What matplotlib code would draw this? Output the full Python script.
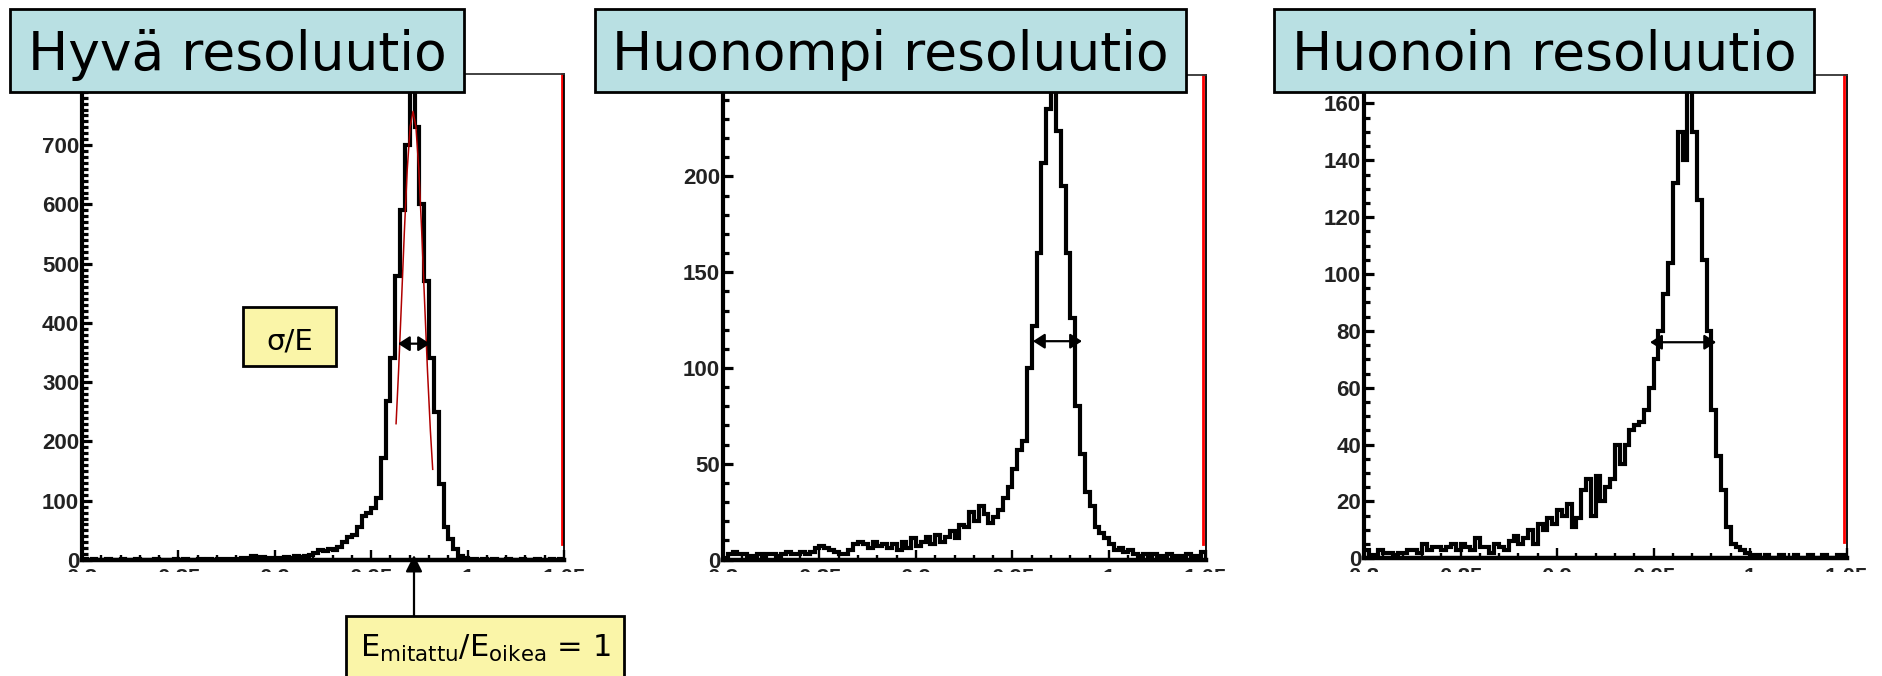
import numpy as np
import matplotlib.pyplot as plt
from matplotlib.patches import Rectangle, FancyArrowPatch
from matplotlib.ticker import MultipleLocator

plt.rcParams['mathtext.fontset'] = 'dejavusans'

W, H = 1883, 676

# histogram bins: 100 bins between 0.8 and 1.05
bin_lo, bin_hi, n_bins = 0.8, 1.05, 100

good = [1, 0, 1, 0, 0, 1, 0, 0, 1, 0,
        0, 1, 0, 0, 0, 1, 0, 0, 0, 1,
        0, 1, 0, 0, 1, 0, 1, 0, 1, 1,
        2, 1, 2, 3, 3, 6, 4, 5, 3, 4,
        4, 3, 5, 4, 6, 5, 7, 8, 12, 17,
        16, 18, 17, 22, 31, 38, 43, 55, 74, 80,
        88, 104, 172, 268, 340, 480, 590, 700, 800, 730,
        600, 470, 340, 250, 128, 55, 35, 18, 6, 3,
        1, 2, 0, 1, 0, 1, 0, 0, 1, 0,
        0, 1, 0, 0, 1, 0, 0, 1, 0, 1]

worse = [1, 3, 4, 3, 3, 2, 2, 3, 2, 3,
         3, 2, 3, 4, 3, 3, 4, 3, 4, 6,
         7, 6, 5, 4, 3, 3, 5, 8, 9, 8,
         6, 9, 7, 8, 6, 8, 5, 9, 6, 11,
         7, 9, 12, 8, 13, 9, 12, 15, 11, 18,
         17, 25, 20, 28, 24, 19, 22, 26, 32, 38,
         47, 57, 62, 100, 122, 160, 207, 235, 265, 224,
         195, 160, 126, 80, 55, 35, 28, 17, 14, 11,
         8, 5, 6, 4, 5, 3, 2, 3, 2, 3,
         2, 2, 3, 2, 1, 2, 3, 2, 2, 4]

worst = [3, 1, 0, 3, 2, 2, 1, 2, 2, 3,
         3, 2, 5, 3, 4, 4, 3, 4, 5, 3,
         5, 4, 3, 7, 4, 4, 2, 5, 4, 3,
         6, 8, 5, 7, 10, 5, 12, 10, 14, 12,
         17, 15, 19, 11, 14, 24, 28, 15, 29, 20,
         25, 28, 40, 33, 40, 45, 47, 48, 52, 60,
         70, 80, 93, 104, 132, 150, 140, 166, 150, 126,
         105, 80, 52, 36, 24, 11, 5, 4, 3, 2,
         1, 1, 0, 1, 0, 0, 1, 0, 0, 1,
         0, 0, 1, 0, 0, 1, 0, 0, 1, 1]

# gaussian fit drawn on the first histogram
fit_x = [0.9629, 0.9642, 0.9657, 0.9672, 0.9687, 0.9702, 0.9717,
         0.9732, 0.9747, 0.9762, 0.9777, 0.9792, 0.9807, 0.9819]
fit_y = [230, 319, 435, 554, 659, 731, 757, 731, 659, 554, 435, 319, 218, 153]

titles = ["Hyvä resoluutio", "Huonompi resoluutio", "Huonoin resoluutio"]
ymax = [820, 253, 170]
ytick_top = [700, 200, 160]
ytick_step = [100, 50, 20]
yminor_step = [10, 10, 5]
# width markers (x from, x to, height)
width_marks = [(0.9639, 0.9805, 365), (0.9606, 0.9860, 114), (0.9482, 0.9824, 76)]

xticks = [0.8, 0.85, 0.9, 0.95, 1.0, 1.05]
xtick_labels = ["0.8", "0.85", "0.9", "0.95", "1", "1.05"]

# panel frames in pixels (left, top, right, bottom)
frames = [(82, 74, 564, 560), (723, 75, 1205.5, 559.5), (1364, 75, 1846.6, 558.3)]
title_boxes = [(10, 9, 464, 92), (595, 9, 1186, 92), (1274, 9, 1814, 92)]

fig = plt.figure(figsize=(W / 100, H / 100), dpi=100)
edges = np.linspace(bin_lo, bin_hi, n_bins + 1)

for k, counts in enumerate([good, worse, worst]):
    l, t, r, b = frames[k]
    ax = fig.add_axes([l / W, 1 - b / H, (r - l) / W, (b - t) / H])
    ax.stairs(counts, edges, color='black', linewidth=3.0, baseline=0)
    ax.set_xlim(bin_lo, bin_hi)
    ax.set_ylim(0, ymax[k])

    ax.set_xticks(xticks)
    ax.set_xticklabels(xtick_labels)
    ax.xaxis.set_minor_locator(MultipleLocator(0.01))
    ax.set_yticks(np.arange(0, ytick_top[k] + 1, ytick_step[k]))
    ax.yaxis.set_minor_locator(MultipleLocator(yminor_step[k]))

    ax.tick_params(which='both', direction='in', top=False, right=False)
    ax.tick_params(axis='y', which='major', length=7.5, width=2.3, pad=2)
    ax.tick_params(axis='y', which='minor', length=4, width=2.3)
    ax.tick_params(axis='x', which='major', length=7.5, width=1.7, pad=6)
    ax.tick_params(axis='x', which='minor', length=3.8, width=1.7)
    for lab in ax.get_xticklabels() + ax.get_yticklabels():
        lab.set_fontfamily('Liberation Sans')
        lab.set_fontweight('bold')
        lab.set_fontsize(16)
        lab.set_color('#222222')

    ax.spines['left'].set_linewidth(3.0)
    ax.spines['bottom'].set_linewidth(3.2)
    ax.spines['top'].set_linewidth(1.3)
    ax.spines['top'].set_color('#333333')
    ax.spines['right'].set_linewidth(1.3)
    ax.plot([0.9955, 0.9955], [0.033, 1.0], transform=ax.transAxes,
            color='red', linewidth=2, clip_on=False)

    x0, x1, yw = width_marks[k]
    ax.annotate('', xy=(x1, yw), xytext=(x0, yw),
                arrowprops=dict(arrowstyle='<|-|>,head_length=0.7,head_width=0.45',
                                mutation_scale=10, color='black', lw=1.6,
                                shrinkA=0, shrinkB=0))
    if k == 0:
        ax.plot(fit_x, fit_y, color='#b00000', linewidth=1.1)


def fig_box(x0, y0, x1, y1, fc):
    fig.add_artist(Rectangle((x0 / W, 1 - y1 / H), (x1 - x0) / W, (y1 - y0) / H,
                             transform=fig.transFigure, facecolor=fc,
                             edgecolor='black', linewidth=2, zorder=10))


# white band hides most of the x tick labels, as in the original slide
fig.add_artist(Rectangle((0, 0), 1, 1 - 571.5 / H, transform=fig.transFigure,
                         facecolor='white', edgecolor='none', zorder=5))

for (x0, y0, x1, y1), s in zip(title_boxes, titles):
    fig_box(x0, y0, x1, y1, '#b9e0e3')
    fig.text((x0 + x1) / 2 / W, 1 - 70 / H, s, ha='center', va='baseline',
             fontsize=38.5, family='DejaVu Sans', zorder=11)

fig_box(243, 307, 336, 366, '#faf5a8')
fig.text(289.5 / W, 1 - 350 / H, 'σ/E', ha='center', va='baseline',
         fontsize=21, family='DejaVu Sans', zorder=11)

fig_box(346, 616, 624, 700, '#faf5a8')
fig.text(485 / W, 1 - 657 / H, r'E$_{\mathregular{mitattu}}$/E$_{\mathregular{oikea}}$ = 1',
         ha='center', va='baseline', fontsize=22, family='DejaVu Sans', zorder=11)

fig.add_artist(FancyArrowPatch((414 / W, 1 - 616 / H), (414 / W, 1 - 555 / H),
                               transform=fig.transFigure,
                               arrowstyle='-|>,head_length=1.0,head_width=0.5',
                               mutation_scale=10, color='black', lw=1.6,
                               shrinkA=0, shrinkB=0, zorder=12))

fig.savefig('out.png', dpi=100)
